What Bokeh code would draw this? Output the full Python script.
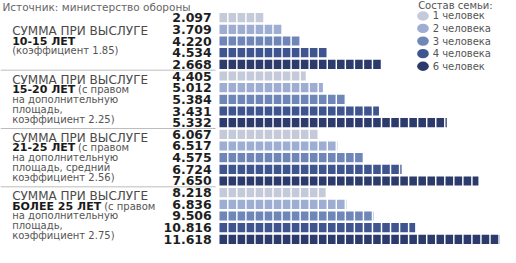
import math
from bokeh.plotting import figure
from bokeh.models import Range1d
from bokeh.core.properties import value
from bokeh.embed import file_html
from bokeh.resources import INLINE

# ---- data ----
value_labels = ["2.097", "3.709", "4.220", "4.534", "2.668",
                "4.405", "5.012", "5.384", "3.431", "5.332",
                "6.067", "6.517", "4.575", "6.724", "7.650",
                "8.218", "6.836", "9.506", "10.816", "11.618"]
bar_squares = [5, 7, 9, 12, 18,
               9.7, 11.6, 14, 17.8, 25.3,
               11, 13.2, 16, 20.3, 28.8,
               11.9, 14.2, 17.2, 21.8, 33]
family = ["1 человек", "2 человека", "3 человека", "4 человека", "6 человек"]
family_colors = ["#c5cada", "#9eaed3", "#6f86b8", "#3f5590", "#2c3b6b"]
group_upper = ["СУММА ПРИ ВЫСЛУГЕ"] * 4
group_bold = ["10-15 ЛЕТ", "15-20 ЛЕТ", "21-25 ЛЕТ", "БОЛЕЕ 25 ЛЕТ"]
group_bold_tail = ["", "(с правом", "(с правом", "(с правом"]
group_rest = [["(коэффициент 1.85)"],
              ["на дополнительную", "площадь,", "коэффициент 2.25)"],
              ["на дополнительную", "площадь, средний", "коэффициент 2.56)"],
              ["на дополнительную", "площадь,", "коэффициент 2.75)"]]
source = "Источник: министерство обороны"
legend_title = "Состав семьи:"

# ---- layout constants ----
W, H = 516, 263
p = figure(width=500, height=247, output_backend="svg", toolbar_location=None,
           x_range=Range1d(0, W), y_range=Range1d(H, 0),
           min_border=0, outline_line_color=None)
p.axis.visible = False
p.grid.visible = False
p.background_fill_color = "white"

row_y0, row_pitch = 18.3, 12.42
bar_x0, sq_pitch, sq_gap, sq_h = 226, 9.33, 1.5, 9.8
FONT = value("DejaVu Sans")

# squares
L, R, T, B, C = [], [], [], [], []
for k, n in enumerate(bar_squares):
    y = row_y0 + k * row_pitch
    col = family_colors[k % 5]
    for i in range(int(math.ceil(n))):
        frac = min(1.0, n - i)
        L.append(bar_x0 + i * sq_pitch)
        R.append(bar_x0 + i * sq_pitch + frac * sq_pitch - sq_gap)
        T.append(y - sq_h / 2)
        B.append(y + sq_h / 2)
        C.append(col)
p.quad(left=L, right=R, top=T, bottom=B, fill_color=C, line_color=None)

# value labels
ys = [row_y0 + k * row_pitch for k in range(len(value_labels))]
p.text(x=[218] * len(ys), y=ys, text=value_labels, text_font=FONT,
       text_font_style="bold", text_font_size="12.5px", text_color="#1e1e1e",
       text_align="right", text_baseline="middle")

# separators
for g in range(1, 4):
    ysep = row_y0 + (5 * g - 0.5) * row_pitch
    p.line([0, 222], [ysep, ysep], line_color="#bdbdbd", line_width=1)

# group texts
tail_x = [0, 80, 80, 107]
for g in range(4):
    rows = [row_y0 + (5 * g + r) * row_pitch for r in range(5)]
    center = sum(rows) / 5
    nlines = 2 + len(group_rest[g])
    sp = 10.5
    top = center - sp * (nlines - 1) / 2
    p.text(x=[12], y=[top], text=[group_upper[g]], text_font=FONT,
           text_font_size="12px", text_color="#4a4a4a", text_baseline="middle")
    p.text(x=[12], y=[top + sp], text=[group_bold[g]], text_font=FONT,
           text_font_style="bold", text_font_size="11px", text_color="#1a1a1a",
           text_baseline="middle")
    if group_bold_tail[g]:
        p.text(x=[tail_x[g]], y=[top + sp], text=[group_bold_tail[g]], text_font=FONT,
               text_font_size="10px", text_color="#555555", text_baseline="middle")
    for j, line in enumerate(group_rest[g]):
        p.text(x=[12], y=[top + sp * (2 + j)], text=[line], text_font=FONT,
               text_font_size="10px", text_color="#555555", text_baseline="middle")

# source
p.text(x=[2], y=[0.5], text=[source], text_font=FONT, text_font_size="10.5px",
       text_color="#666666", text_baseline="top")

# legend
p.text(x=[431], y=[5], text=[legend_title], text_font=FONT, text_font_size="10px",
       text_color="#555555", text_baseline="middle")
leg_y = [16.5, 29.7, 43.2, 56.6, 70]
p.ellipse(x=[436] * 5, y=leg_y, width=12, height=10, fill_color=family_colors,
          line_color=None)
p.text(x=[446] * 5, y=leg_y, text=family, text_font=FONT, text_font_size="10px",
       text_color="#555555", text_baseline="middle")

open("out.html", "w").write(file_html(p, INLINE))
